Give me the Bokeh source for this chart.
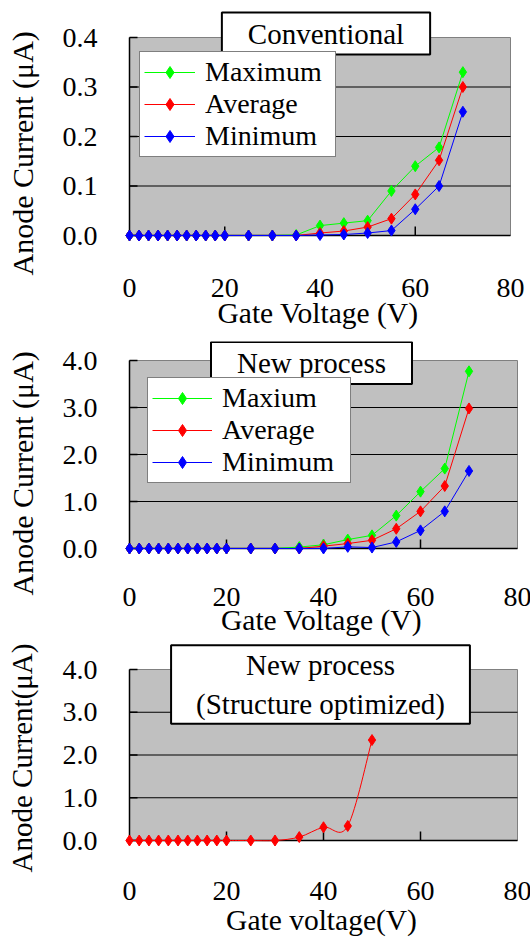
import numpy as np
from bokeh.plotting import figure
from bokeh.models import Label, Legend, LegendItem, PrintfTickFormatter, ColumnDataSource, Title
from bokeh.layouts import column
from bokeh.embed import file_html
from bokeh.resources import INLINE

FONT = "Liberation Serif"

# ---------------- data ----------------
x_ticks = [0, 20, 40, 60, 80]
x_max = 80

# Panel 1: Conventional
volt_1 = [0, 2, 4, 6, 8, 10, 12, 14, 16, 18, 20, 25, 30, 35, 40, 45, 50, 55, 60, 65, 70]
conv_max = [0, 0, 0, 0, 0, 0, 0, 0, 0, 0, 0, 0, 0, 0.001, 0.020, 0.025, 0.030, 0.090, 0.140, 0.178, 0.330]
conv_avg = [0, 0, 0, 0, 0, 0, 0, 0, 0, 0, 0, 0, 0, 0.0, 0.005, 0.009, 0.017, 0.034, 0.083, 0.152, 0.300]
conv_min = [0, 0, 0, 0, 0, 0, 0, 0, 0, 0, 0, 0, 0, 0.0, 0.001, 0.002, 0.005, 0.010, 0.053, 0.100, 0.250]
conv_yticks = [0.0, 0.1, 0.2, 0.3, 0.4]
conv_labels = ["Maximum", "Average", "Minimum"]

# Panel 2: New process
volt_2 = [0, 2, 4, 6, 8, 10, 12, 14, 16, 18, 20, 25, 30, 35, 40, 45, 50, 55, 60, 65, 70]
new_max = [0, 0, 0, 0, 0, 0, 0, 0, 0, 0, 0, 0, 0, 0.03, 0.08, 0.19, 0.28, 0.70, 1.21, 1.70, 3.77]
new_avg = [0, 0, 0, 0, 0, 0, 0, 0, 0, 0, 0, 0, 0, 0.0, 0.05, 0.105, 0.175, 0.42, 0.79, 1.33, 2.98]
new_min = [0, 0, 0, 0, 0, 0, 0, 0, 0, 0, 0, 0, 0, 0.0, 0.0, 0.035, 0.02, 0.14, 0.385, 0.79, 1.65]
new_yticks = [0.0, 1.0, 2.0, 3.0, 4.0]
new_labels = ["Maxium", "Average", "Minimum"]

# Panel 3: New process (Structure optimized)
volt_3 = [0, 2, 4, 6, 8, 10, 12, 14, 16, 18, 20, 25, 30, 35, 40, 45, 50]
opt_avg = [0, 0, 0, 0, 0, 0, 0, 0, 0, 0, 0, 0, 0, 0.08, 0.31, 0.34, 2.35]

GREEN, RED, BLUE = "#00FF00", "#FF0000", "#0000FF"
TOTAL_W = 530
EXT = 6  # px of frame kept outside the plot area so edge markers are not clipped


class Panel:
    def __init__(self, gl, gr, gt, gb, frame_top, fig_top, fig_bot, ymax):
        self.gl, self.gr, self.gt, self.gb = gl, gr, gt, gb
        self.ymax = ymax
        self.pxu = (gr - gl) / x_max
        self.pyu = (gb - gt) / ymax
        self.fl = gl - EXT
        self.fw = gr - gl + EXT + 2
        self.ft = frame_top
        self.fb = gb + EXT
        self.fh = self.fb - self.ft
        self.bt = frame_top - fig_top
        self.bb = fig_bot - self.fb
        self.br = TOTAL_W - self.fl - self.fw

    def dx(self, px):
        return (px - self.gl) / self.pxu

    def dy(self, py):
        return (self.gb - py) / self.pyu


def base_fig(L, yticks, xlabel, ylabel, xstand, xlabstand, ytitle_bottom, ytitle_size, ygap):
    p = figure(frame_width=L.fw, frame_height=L.fh,
               x_range=(-EXT / L.pxu, x_max + 2 / L.pxu),
               y_range=(-EXT / L.pyu, L.ymax + (L.gt - L.ft) / L.pyu),
               output_backend="svg", toolbar_location=None,
               min_border_left=L.fl, min_border_right=L.br,
               min_border_top=L.bt, min_border_bottom=L.bb)
    p.background_fill_color = "white"
    p.border_fill_color = "white"
    p.outline_line_color = None
    p.xgrid.visible = False
    p.ygrid.visible = False
    # plot-area background
    p.quad(left=[0], right=[x_max], bottom=[0], top=[L.ymax],
           fill_color="#C0C0C0", line_color="#808080", line_width=1)
    # horizontal gridlines at the inner y ticks
    inner = yticks[1:-1]
    p.segment(x0=[0] * len(inner), x1=[x_max] * len(inner), y0=inner, y1=inner,
              line_color="black", line_width=1)
    # axis lines and inward ticks at the plot-area edges
    p.segment(x0=[0, 0], y0=[0, 0], x1=[x_max, 0], y1=[0, L.ymax],
              line_color="black", line_width=1.5)
    xin = x_ticks[1:-1]
    p.segment(x0=xin, x1=xin, y0=[0] * len(xin), y1=[9 / L.pyu] * len(xin),
              line_color="black", line_width=1.5)
    p.segment(x0=[0] * len(yticks), x1=[8 / L.pxu] * len(yticks), y0=yticks, y1=yticks,
              line_color="black", line_width=1.5)
    p.xaxis.ticker = x_ticks
    p.yaxis.ticker = yticks
    p.yaxis.formatter = PrintfTickFormatter(format="%.1f")
    for ax in (p.xaxis[0], p.yaxis[0]):
        ax.axis_line_color = None
        ax.major_tick_line_color = None
        ax.minor_tick_line_color = None
        ax.major_tick_out = 0
        ax.major_tick_in = 0
        ax.major_label_text_font = FONT
        ax.major_label_text_font_size = "28px"
        ax.major_label_text_color = "black"
        ax.axis_label_text_font = FONT
        ax.axis_label_text_font_size = "29.5px"
        ax.axis_label_text_font_style = "normal"
        ax.axis_label_text_color = "black"
    p.xaxis.major_label_standoff = xstand
    p.yaxis.major_label_standoff = 32 - EXT
    p.xaxis.axis_label = xlabel
    p.xaxis.axis_label_standoff = xlabstand
    # blank spacer label keeps the rotated title clear of the tick labels
    p.yaxis.axis_label = " "
    p.yaxis.axis_label_text_font_size = "%dpx" % ygap
    p.yaxis.axis_label_standoff = 2
    t = Title(text=ylabel, align="left", offset=L.fb - ytitle_bottom,
              text_font=FONT, text_font_size=ytitle_size, text_font_style="normal",
              text_color="black", standoff=4)
    p.add_layout(t, "left")
    return p


def title_box(p, L, cx, cy, text, pad):
    lab = Label(x=L.dx(cx), y=L.dy(cy), text=text, text_font=FONT, text_font_size="29px",
                text_align="center", text_baseline="middle", text_color="black",
                background_fill_color="white", background_fill_alpha=1.0,
                border_line_color="black", border_line_width=2, padding=pad)
    p.add_layout(lab)


def series(p, xs, ys, color):
    src = ColumnDataSource(dict(x=xs, y=ys))
    rl = p.line("x", "y", source=src, line_color=color, line_width=1)
    rs = p.scatter("x", "y", source=src, marker="diamond", size=11,
                   fill_color=color, line_color=color)
    return [rl, rs]


def legend(p, L, items, left, bottom, glyph_w, label_w):
    lg = Legend(items=items, location=(left - L.fl, L.fb - bottom), orientation="vertical",
                label_text_font=FONT, label_text_font_size="28px", label_text_color="black",
                label_height=30, glyph_height=30, glyph_width=glyph_w, label_standoff=10,
                label_width=label_w, padding=4, spacing=0, margin=0,
                border_line_color="black", border_line_width=1.5,
                background_fill_color="white", background_fill_alpha=1.0)
    p.add_layout(lg)


# ---------------- panel 1 ----------------
L1 = Panel(129, 510, 37, 235, 9, 0, 341, 0.4)
p1 = base_fig(L1, conv_yticks, "Gate Voltage (V)", "Anode Current (μA)", 37, -3, 275, "30px", 12)
r1 = series(p1, volt_1, conv_max, GREEN)
r2 = series(p1, volt_1, conv_avg, RED)
r3 = series(p1, volt_1, conv_min, BLUE)
legend(p1, L1, [LegendItem(label=conv_labels[0], renderers=r1),
                LegendItem(label=conv_labels[1], renderers=r2),
                LegendItem(label=conv_labels[2], renderers=r3)], 139, 157, 51, 126)
title_box(p1, L1, 325.5, 33, "Conventional", (26, 5))

# ---------------- panel 2 ----------------
L2 = Panel(125, 513, 360, 548, 341, 341, 640, 4.0)
p2 = base_fig(L2, new_yticks, "Gate Voltage (V)", "Anode Current (μA)", 33, -5, 595, "30px", 12)
q1 = series(p2, volt_2, new_max, GREEN)
q2 = series(p2, volt_2, new_avg, RED)
q3 = series(p2, volt_2, new_min, BLUE)
legend(p2, L2, [LegendItem(label=new_labels[0], renderers=q1),
                LegendItem(label=new_labels[1], renderers=q2),
                LegendItem(label=new_labels[2], renderers=q3)], 143, 483, 60, 124)
title_box(p2, L2, 307, 362.5, "New process", (26, 5))

# ---------------- panel 3 ----------------
L3 = Panel(124, 512, 669, 840, 642, 640, 940, 4.0)
p3 = base_fig(L3, new_yticks, "Gate voltage(V)", "Anode Current(μA)", 35, 1, 872, "29px", 13)
P = np.column_stack([np.array(volt_3, float), np.array(opt_avg, float)])
prev = np.vstack([P[:1], P[:-1]])
nxt = np.vstack([P[1:], P[-1:]])
c0 = P[:-1] + (P[1:] - prev[:-1]) / 6.0
c1 = P[1:] - (nxt[1:] - P[:-1]) / 6.0
p3.bezier(x0=P[:-1, 0], y0=P[:-1, 1], x1=P[1:, 0], y1=P[1:, 1],
          cx0=c0[:, 0], cy0=c0[:, 1], cx1=c1[:, 0], cy1=c1[:, 1],
          line_color=RED, line_width=1)
p3.scatter(volt_3, opt_avg, marker="diamond", size=11, fill_color=RED, line_color=RED)
title_box(p3, L3, 315, 684, "New process\n(Structure optimized)", (25, 4))

layout = column(p1, p2, p3, spacing=0)
open("out.html", "w").write(file_html(layout, INLINE))
